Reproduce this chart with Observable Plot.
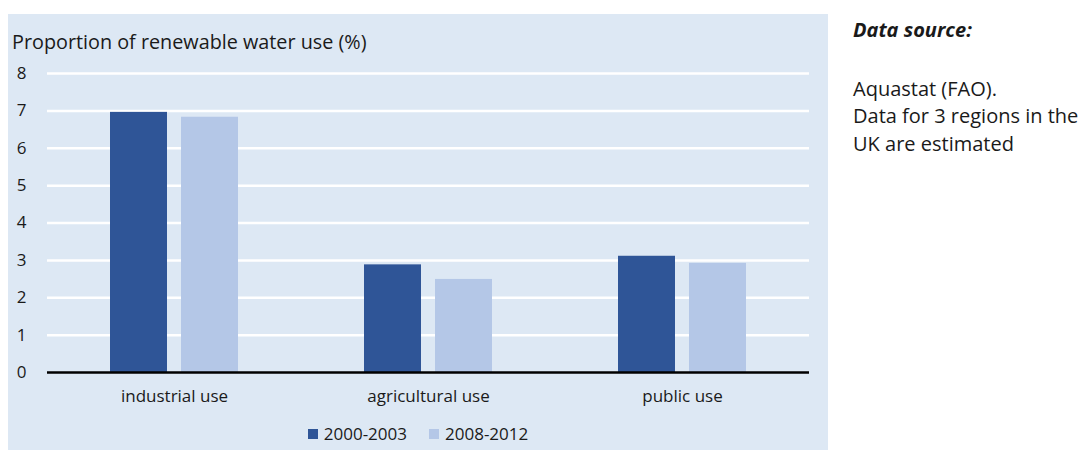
<!DOCTYPE html>
<html>
<head>
<meta charset="utf-8">
<script src="https://cdn.jsdelivr.net/npm/d3@7"></script>
<script src="https://cdn.jsdelivr.net/npm/@observablehq/plot@0.6"></script>
<style>
  html, body { margin: 0; padding: 0; background: #ffffff; }
  body { width: 1085px; height: 452px; position: relative; overflow: hidden; font-family: "Open Sans", Lato, sans-serif; color: #1a1a1a; }
  #panel { position: absolute; left: 8px; top: 14px; width: 820px; height: 436px; background: #dde8f4; }
  #title { position: absolute; left: 4px; top: 18px; font-size: 19.8px; line-height: 20px; white-space: nowrap; }
  #chart { position: absolute; left: 0; top: 44px; }
  #legend { position: absolute; left: 0; width: 820px; top: 409px; text-align: center; font-size: 17px; line-height: 22px; }
  #legend span.item { display: inline-block; margin: 0 11px; }
  #legend span.sw { display: inline-block; width: 10px; height: 10px; margin-right: 6px; vertical-align: 1px; }
  #side { position: absolute; left: 853px; top: 16px; font-size: 20px; line-height: 27.5px; }
  #side .head { font-weight: bold; font-style: italic; margin-bottom: 31px; }
</style>
</head>
<body>
<div id="panel">
  <div id="title">Proportion of renewable water use (%)</div>
  <div id="chart"></div>
  <div id="legend"></div>
</div>
<div id="side">
  <div class="head">Data source:</div>
  <div>Aquastat (FAO).</div>
  <div>Data for 3 regions in the</div>
  <div>UK are estimated</div>
</div>
<script>
const categories = ["industrial use", "agricultural use", "public use"];
const periods = ["2000-2003", "2008-2012"];
const values2000 = [6.96, 2.88, 3.11];
const values2008 = [6.83, 2.49, 2.92];
const yTicks = [0, 1, 2, 3, 4, 5, 6, 7, 8];
const colors = ["#2f5597", "#b4c7e7"];

const data = [];
categories.forEach((c, i) => {
  data.push({category: c, period: periods[0], value: values2000[i]});
  data.push({category: c, period: periods[1], value: values2008[i]});
});

const chart = Plot.plot({
  width: 820,
  height: 356,
  marginLeft: 38,
  marginRight: 18,
  marginTop: 15,
  marginBottom: 42,
  style: {background: "transparent", fontFamily: "'Open Sans', Lato, sans-serif", fontSize: "17px", color: "#1a1a1a"},
  fx: {domain: categories, padding: 0, label: null, axis: "bottom", tickSize: 0, tickPadding: 17},
  x: {domain: periods, axis: null, paddingInner: 0.194, paddingOuter: 0.866},
  y: {domain: [0, 8], ticks: yTicks, label: null, tickSize: 0, tickPadding: 21},
  color: {domain: periods, range: colors},
  marks: [
    Plot.gridY(yTicks.filter(d => d > 0), {stroke: "#ffffff", strokeOpacity: 1, strokeWidth: 2.5}),
    Plot.barY(data, {fx: "category", x: "period", y: "value", fill: "period"}),
    Plot.ruleY([0], {stroke: "#000000", strokeWidth: 2.5})
  ]
});
document.getElementById("chart").appendChild(chart);

const legend = document.getElementById("legend");
periods.forEach((p, i) => {
  const item = document.createElement("span");
  item.className = "item";
  const sw = document.createElement("span");
  sw.className = "sw";
  sw.style.background = colors[i];
  item.appendChild(sw);
  item.appendChild(document.createTextNode(p));
  legend.appendChild(item);
});
</script>
</body>
</html>
